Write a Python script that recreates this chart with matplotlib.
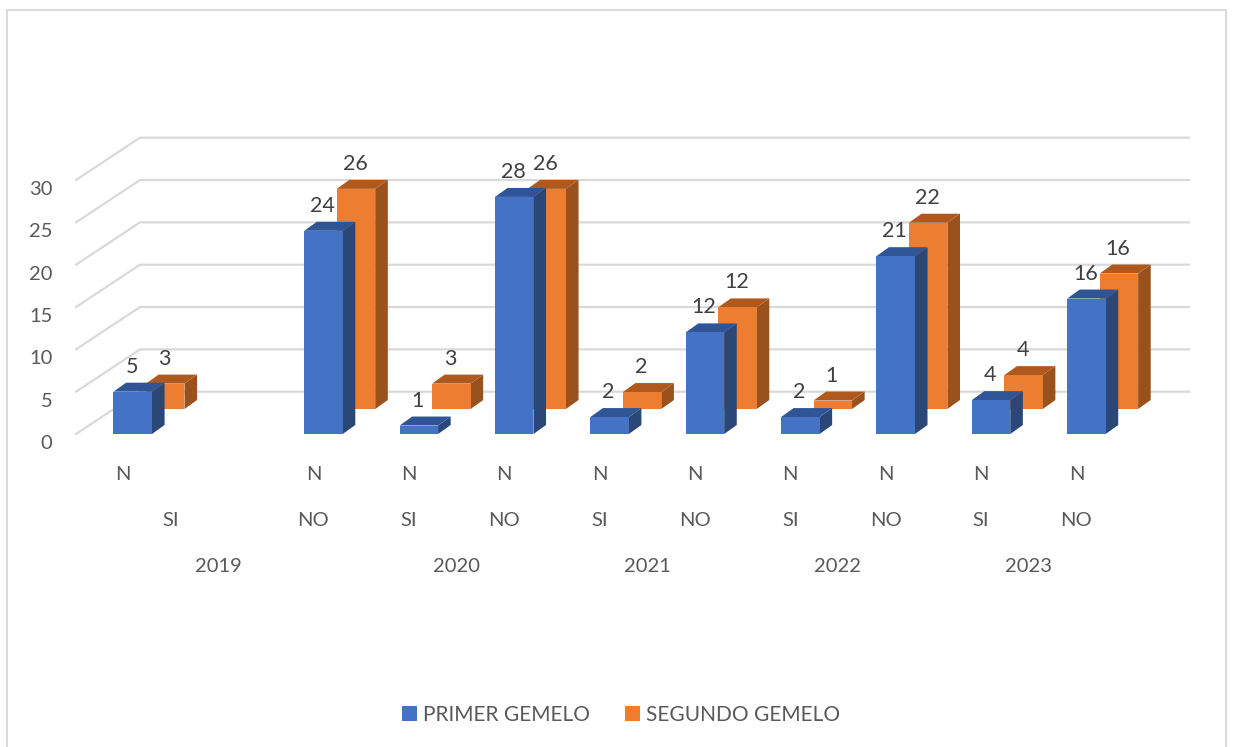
import matplotlib
matplotlib.use("Agg")
import matplotlib.pyplot as plt
from matplotlib.patches import Polygon, Patch
from matplotlib.lines import Line2D
from matplotlib.transforms import ScaledTranslation

plt.rcParams['font.family'] = ['Lato', 'DejaVu Sans']

# data, position 1 is the empty slot of 2019
positions = [0, 2, 3, 4, 5, 6, 7, 8, 9, 10]
primer = [5, 24, 1, 28, 2, 12, 2, 21, 4, 16]
segundo = [3, 26, 3, 26, 2, 12, 1, 22, 4, 16]

n_positions = [0, 2, 3, 4, 5, 6, 7, 8, 9, 10]
n_labels = ["N"] * 10
sub_positions = [0.5, 2, 3, 4, 5, 6, 7, 8, 9, 10]
sub_labels = ["SI", "NO", "SI", "NO", "SI", "NO", "SI", "NO", "SI", "NO"]
year_positions = [1, 3.5, 5.5, 7.5, 9.5]
years = ["2019", "2020", "2021", "2022", "2023"]
y_ticks = [0, 5, 10, 15, 20, 25, 30]

# image size and colours
W, H = 1233, 747
GRID = "#D9D9D9"
BLUE = ("#4472C4", "#2F5597", "#2A4777")
ORANGE = ("#ED7D31", "#B0591F", "#99511D")

fig = plt.figure(figsize=(W / 100, H / 100), dpi=100)
left, right, top, bottom = 76, 1125, 180, 434
ax = fig.add_axes([left / W, 1 - bottom / H, (right - left) / W, (bottom - top) / H])
ax.set_xlim(-0.595, 10.405)
ax.set_ylim(0, 30)
ax.set_facecolor("none")
for s in ax.spines.values():
    s.set_visible(False)

# pixels to data units
px_x = 11.0 / (right - left)
px_y = 30.0 / (bottom - top)
wall_dx, wall_dy = 64 * px_x, 42.3 * px_y
bar_w = 38.5 * px_x
side_dx, side_dy = 12.6 * px_x, 9 * px_y
row_dx, row_dy = 32.5 * px_x, 25 * px_y
x0 = ax.get_xlim()[0]
x1 = ax.get_xlim()[1]

# back wall and left side grid
for t in y_ticks:
    ax.plot([x0, x0 + wall_dx, x1 + wall_dx], [t, t + wall_dy, t + wall_dy],
            color=GRID, lw=1.6, clip_on=False, zorder=1, solid_joinstyle="miter")


def bar3d(x, base, val, cols, z):
    xl, xr = x - bar_w / 2, x + bar_w / 2
    y0, y1 = base, base + val
    ax.add_patch(Polygon([(xr, y0), (xr + side_dx, y0 + side_dy), (xr + side_dx, y1 + side_dy), (xr, y1)],
                         fc=cols[2], ec="none", clip_on=False, zorder=z))
    ax.add_patch(Polygon([(xl, y1), (xr, y1), (xr + side_dx, y1 + side_dy), (xl + side_dx, y1 + side_dy)],
                         fc=cols[1], ec="none", clip_on=False, zorder=z))
    ax.add_patch(Polygon([(xl, y0), (xr, y0), (xr, y1), (xl, y1)],
                         fc=cols[0], ec="none", clip_on=False, zorder=z))


# orange row sits behind the blue one
for p, v in zip(positions, segundo):
    bar3d(p + row_dx, row_dy, v, ORANGE, 2)
    ax.annotate(str(v), (p + row_dx, row_dy + v), xytext=(-1, 25), textcoords="offset pixels",
                ha="center", va="center", fontsize=15.5, color="#404040", annotation_clip=False, zorder=5)
for p, v in zip(positions, primer):
    bar3d(p, 0, v, BLUE, 3)
    ax.annotate(str(v), (p, v), xytext=(-1, 25), textcoords="offset pixels",
                ha="center", va="center", fontsize=15.5, color="#404040", annotation_clip=False, zorder=5)

# value axis
ax.set_yticks(y_ticks)
ax.tick_params(axis="y", length=0, pad=17, labelsize=14.5, labelcolor="#595959")
shift = ScaledTranslation(0, -8 / 100, fig.dpi_scale_trans)
for lab in ax.get_yticklabels():
    lab.set_transform(lab.get_transform() + shift)

# three level category axis
ax.set_xticks([])
for pos_list, labs, dy, dx in [(n_positions, n_labels, -41, -10),
                               (sub_positions, sub_labels, -86, -10),
                               (year_positions, years, -133, -10)]:
    for p, lab in zip(pos_list, labs):
        ax.annotate(lab, (p, 0), xytext=(dx, dy), textcoords="offset pixels", ha="center", va="center",
                    fontsize=14.5, color="#595959", annotation_clip=False)

handles = [Patch(fc=BLUE[0], ec="none", label="PRIMER GEMELO"),
           Patch(fc=ORANGE[0], ec="none", label="SEGUNDO GEMELO")]
fig.legend(handles=handles, loc="center", bbox_to_anchor=(621 / W, 1 - 715 / H), ncols=2, frameon=False,
           fontsize=15, labelcolor="#595959", handlelength=0.7, handleheight=0.7, handletextpad=0.28,
           columnspacing=1.7)

# chart border, open at the bottom of the crop
fig.add_artist(Line2D([7 / W, 7 / W, 1226 / W, 1226 / W], [0, 1 - 10 / H, 1 - 10 / H, 0],
                      color=GRID, lw=1.4, transform=fig.transFigure, solid_joinstyle="miter"))

fig.savefig("out.png", dpi=100)
